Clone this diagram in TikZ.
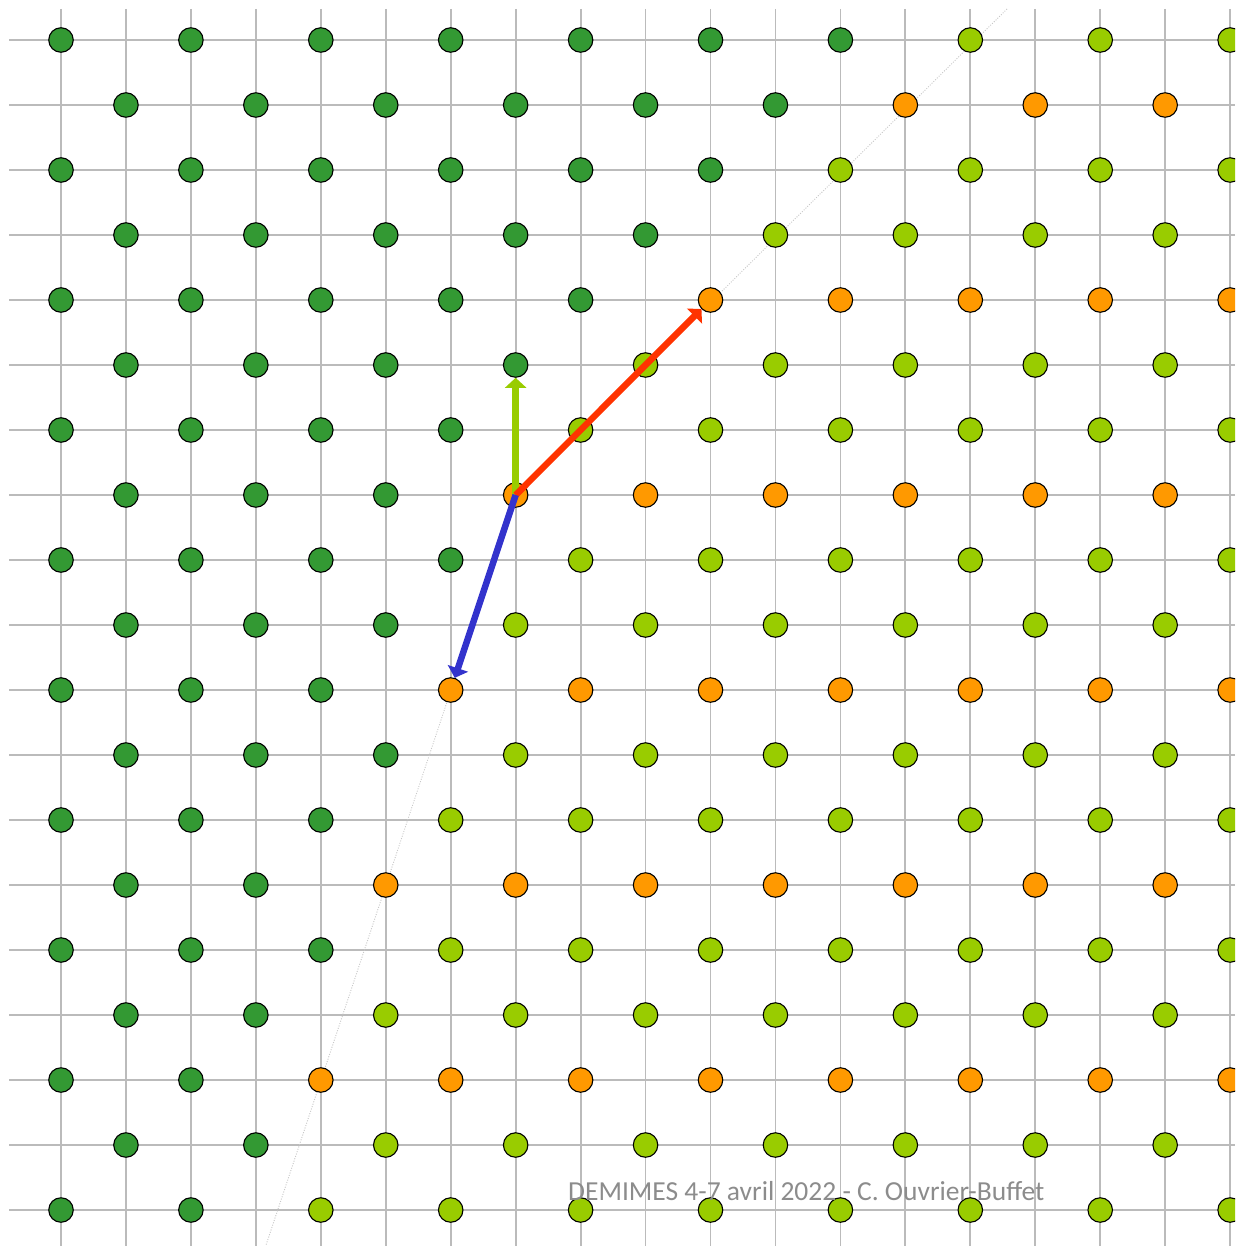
\documentclass[tikz,border=0pt]{standalone}
\usepackage{fontspec}
\setmainfont{Carlito}
\usetikzlibrary{arrows.meta}
\definecolor{dkg}{HTML}{339933}
\definecolor{ltg}{HTML}{99CC00}
\definecolor{org}{HTML}{FF9900}
\definecolor{redv}{HTML}{FF3300}
\definecolor{bluev}{HTML}{3333CC}
\definecolor{gridc}{HTML}{BBBBBB}
\definecolor{textc}{HTML}{8C8C8C}
\definecolor{dotc}{HTML}{C8C8C8}
\tikzset{
  gridline/.style={draw=gridc, line width=1.8pt},
  dotline/.style={draw=dotc, line width=0.9pt, dash pattern=on 1pt off 1.5pt},
  latdot/.style={circle, draw=black, line width=1.1pt, minimum size=24.5pt, inner sep=0pt},
  vec/.style={line width=6.5pt, -{Triangle[length=10pt,width=21pt]}},
  credit/.style={text=textc, font=\fontsize{27.5}{32}\selectfont, inner sep=0pt}
}
\begin{document}
\begin{tikzpicture}[x=1pt,y=-1pt]
\useasboundingbox (0,0) rectangle (1235,1246);
\clip (0,0) rectangle (1235,1246);
% grid
\foreach \i in {0,...,18} {
  \draw[gridline] ({61+64.95*\i},9) -- ({61+64.95*\i},1246);
}
\foreach \j in {0,...,18} {
  \draw[gridline] (9,{40+65*\j}) -- (1235,{40+65*\j});
}
% dotted cone boundary
\coordinate (origin) at (516,495);
\coordinate (dtop) at (1007,9);
\coordinate (dbot) at (265.7,1246);
\draw[dotline] (dtop) -- (origin) -- (dbot);
% lattice points
\foreach \j in {0,...,18} {
  \foreach \i in {0,...,18} {
    \pgfmathtruncatemacro{\pty}{mod(\i+\j,2)}
    \ifnum\pty=0
      \pgfmathtruncatemacro{\ins}{(\j<=7)*((\i+\j)>=14) + (\j>7)*((3*\i+\j)>=28)}
      \pgfmathtruncatemacro{\rm}{mod(\j,3)}
      \ifnum\ins=0
        \def\dotcol{dkg}
      \else
        \ifnum\rm=1 \def\dotcol{org}\else \def\dotcol{ltg}\fi
      \fi
      \node[latdot, fill=\dotcol] (d-\i-\j) at ({61+64.95*\i},{40+65*\j}) {};
    \fi
  }
}
% vectors
\draw[vec, draw=ltg, fill=ltg] (d-7-7.center) -- (d-7-5);
\draw[vec, draw=redv, fill=redv] (d-7-7.center) -- (d-10-4);
\draw[vec, draw=bluev, fill=bluev] (d-7-7.center) -- (d-6-10);
% credit
\node[credit, anchor=base west] (credit) at (568,1200) {DEMIMES 4-7 avril 2022 - C. Ouvrier-Buffet};
\end{tikzpicture}
\end{document}
